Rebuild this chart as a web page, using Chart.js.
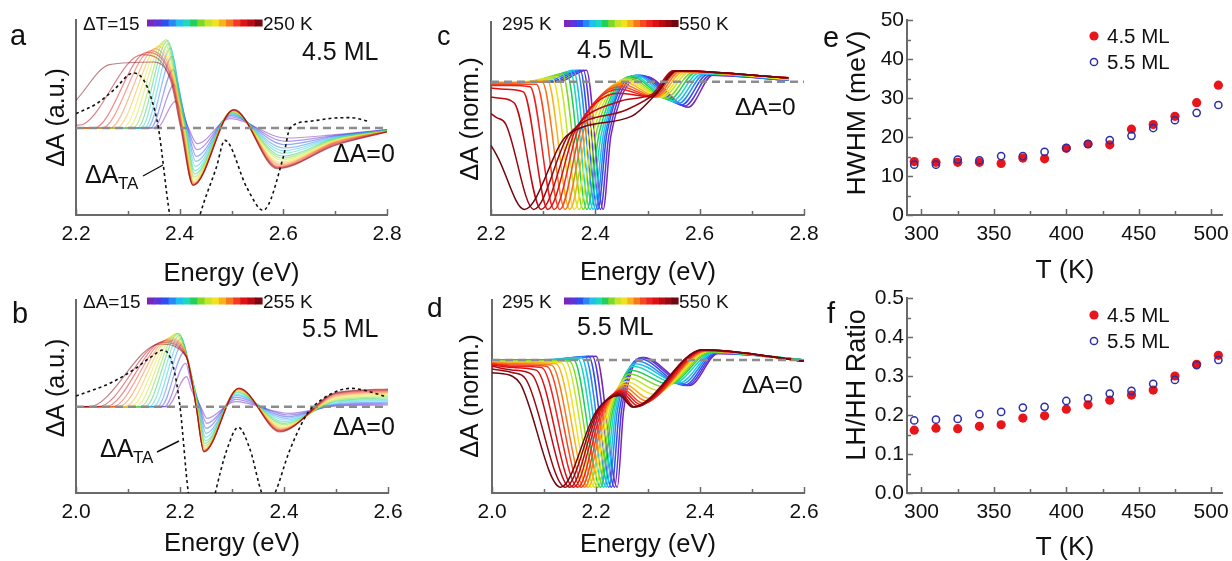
<!DOCTYPE html>
<html>
<head>
<meta charset="utf-8">
<script src="https://cdn.jsdelivr.net/npm/chart.js@4.4.0/dist/chart.umd.min.js"></script>
<style>
  html, body { margin: 0; padding: 0; background: #fff; }
  #wrap { position: relative; width: 1232px; height: 561px; overflow: hidden; }
  #wrap canvas { position: absolute; left: 0; top: 0; }
</style>
</head>
<body>
<div id="wrap">
  <canvas id="pa" width="1232" height="561"></canvas>
  <canvas id="pb" width="1232" height="561"></canvas>
  <canvas id="pc" width="1232" height="561"></canvas>
  <canvas id="pd" width="1232" height="561"></canvas>
  <canvas id="pe" width="1232" height="561"></canvas>
  <canvas id="pf" width="1232" height="561"></canvas>
</div>
<script>
// ---- a: 4.5 ML difference spectra, dT = 15 ... 250 K (cold -> hot) ----
const aStart  = [0, 0, 0, 0, 0, 0, 0, 0, 0, 0, 0, 0, 0, 0, 0.08, 0.83];
const aRiseE  = [2.356, 2.35, 2.344, 2.338, 2.332, 2.325, 2.318, 2.31, 2.3, 2.29, 2.278, 2.265, 2.25, 2.235, 2.215, 2.265];
const aRiseY  = [0, 0, 0, 0, 0, 0, 0, 0, 0, 0, 0, 0, 0, 0, 0.12, 1.9];
const aPeakE  = [2.392, 2.39, 2.388, 2.386, 2.383, 2.38, 2.377, 2.374, 2.37, 2.365, 2.36, 2.353, 2.345, 2.337, 2.328, 2.35];
const aPeakY  = [0.8, 1.3, 1.75, 2.15, 2.4, 2.55, 2.62, 2.65, 2.6, 2.52, 2.45, 2.38, 2.32, 2.27, 2.2, 1.98];
const aFallE  = [2.404, 2.402, 2.4, 2.398, 2.396, 2.394, 2.392, 2.39, 2.389, 2.388, 2.387, 2.386, 2.385, 2.384, 2.383, 2.382];
const aFallY  = [0.45, 0.75, 1.0, 1.25, 1.4, 1.5, 1.55, 1.6, 1.6, 1.58, 1.56, 1.55, 1.52, 1.5, 1.48, 1.45];
const aZeroE  = [2.417, 2.416, 2.415, 2.414, 2.413, 2.412, 2.411, 2.41, 2.409, 2.408, 2.407, 2.406, 2.405, 2.404, 2.403, 2.402];
const aDipE   = [2.434, 2.433, 2.432, 2.431, 2.43, 2.429, 2.429, 2.428, 2.428, 2.427, 2.427, 2.427, 2.426, 2.426, 2.426, 2.426];
const aDipY   = [-0.47, -0.65, -0.85, -1.0, -1.15, -1.28, -1.38, -1.47, -1.54, -1.6, -1.64, -1.67, -1.69, -1.71, -1.72, -1.72];
const aPeak2E = [2.497, 2.498, 2.498, 2.499, 2.499, 2.5, 2.5, 2.501, 2.501, 2.502, 2.502, 2.503, 2.503, 2.504, 2.504, 2.505];
const aPeak2Y = [0.28, 0.33, 0.37, 0.4, 0.43, 0.45, 0.47, 0.49, 0.5, 0.51, 0.52, 0.53, 0.54, 0.54, 0.55, 0.55];
const aDip2E  = [2.605, 2.604, 2.603, 2.601, 2.6, 2.599, 2.598, 2.597, 2.596, 2.594, 2.593, 2.592, 2.591, 2.59, 2.589, 2.588];
const aDip2Y  = [-0.3, -0.4, -0.5, -0.6, -0.68, -0.76, -0.84, -0.9, -0.96, -1.02, -1.07, -1.11, -1.15, -1.18, -1.2, -1.22];
const aAt270  = [-0.2, -0.22, -0.24, -0.26, -0.28, -0.3, -0.32, -0.34, -0.36, -0.38, -0.4, -0.42, -0.44, -0.47, -0.5, -0.52];
const aAt280  = [-0.05, -0.05, -0.06, -0.06, -0.07, -0.07, -0.08, -0.08, -0.09, -0.09, -0.1, -0.1, -0.11, -0.11, -0.12, -0.12];
// transient absorption spectrum (black dashed)
const aTaE = [2.2, 2.24, 2.272, 2.311, 2.33, 2.345, 2.359, 2.381, 2.41, 2.439, 2.471, 2.487, 2.53, 2.561, 2.6, 2.613, 2.65, 2.7, 2.73, 2.765];
const aTaY = [0.43, 0.73, 1.13, 1.65, 1.45, 0.9, 0, -2.62, -4.5, -2.62, -1.17, -0.37, -1.8, -2.47, -0.87, 0, 0.2, 0.3, 0.31, 0.2];

// ---- b: 5.5 ML difference spectra, dT = 15 ... 255 K ----
const bRiseE  = [2.175, 2.17, 2.163, 2.156, 2.149, 2.141, 2.133, 2.124, 2.115, 2.105, 2.094, 2.082, 2.07, 2.057, 2.043, 2.025];
const bPeakE  = [2.213, 2.211, 2.209, 2.206, 2.203, 2.2, 2.197, 2.194, 2.19, 2.186, 2.182, 2.178, 2.174, 2.17, 2.166, 2.162];
const bPeakY  = [0.9, 1.3, 1.65, 1.9, 2.05, 2.15, 2.2, 2.2, 2.17, 2.12, 2.07, 2.03, 2.0, 1.97, 1.93, 1.88];
const bFallE  = [2.222, 2.221, 2.22, 2.219, 2.218, 2.217, 2.216, 2.215, 2.215, 2.214, 2.214, 2.213, 2.213, 2.212, 2.212, 2.212];
const bFallY  = [0.5, 0.75, 0.95, 1.1, 1.2, 1.28, 1.34, 1.38, 1.42, 1.45, 1.47, 1.49, 1.5, 1.5, 1.5, 1.5];
const bZeroE  = [2.24, 2.239, 2.238, 2.237, 2.236, 2.235, 2.234, 2.234, 2.233, 2.233, 2.232, 2.232, 2.231, 2.231, 2.231, 2.231];
const bDipE   = [2.252, 2.251, 2.25, 2.25, 2.249, 2.249, 2.248, 2.248, 2.247, 2.247, 2.247, 2.246, 2.246, 2.246, 2.246, 2.246];
const bDipY   = [-0.35, -0.5, -0.65, -0.8, -0.92, -1.02, -1.1, -1.17, -1.22, -1.26, -1.29, -1.31, -1.33, -1.34, -1.35, -1.36];
const bPeak2E = [2.306, 2.307, 2.307, 2.308, 2.308, 2.309, 2.309, 2.31, 2.31, 2.311, 2.311, 2.312, 2.312, 2.313, 2.313, 2.314];
const bPeak2Y = [0.15, 0.22, 0.28, 0.33, 0.37, 0.41, 0.44, 0.47, 0.49, 0.51, 0.52, 0.53, 0.54, 0.55, 0.55, 0.56];
const bDip2E  = [2.41, 2.408, 2.406, 2.404, 2.403, 2.401, 2.4, 2.399, 2.398, 2.397, 2.396, 2.395, 2.394, 2.393, 2.393, 2.392];
const bDip2Y  = [-0.2, -0.25, -0.3, -0.35, -0.4, -0.45, -0.5, -0.54, -0.58, -0.62, -0.65, -0.68, -0.7, -0.72, -0.74, -0.76];
const bAt250  = [0.02, 0.04, 0.06, 0.08, 0.11, 0.14, 0.17, 0.2, 0.23, 0.26, 0.29, 0.32, 0.35, 0.38, 0.4, 0.42];
const bAt260  = [0.05, 0.08, 0.11, 0.14, 0.18, 0.22, 0.26, 0.3, 0.34, 0.37, 0.4, 0.43, 0.46, 0.49, 0.51, 0.53];
const bTaE = [2.0, 2.065, 2.11, 2.145, 2.168, 2.187, 2.2, 2.216, 2.242, 2.268, 2.29, 2.312, 2.335, 2.357, 2.37, 2.383, 2.41, 2.445, 2.456, 2.49, 2.528, 2.598];
const bTaY = [0.32, 0.7, 1.1, 1.5, 1.7, 1.2, 0, -2.58, -4.5, -2.58, -1.3, -0.62, -1.3, -2.58, -2.9, -2.58, -1.35, -0.2, 0, 0.38, 0.55, 0.3];

// ---- c: 4.5 ML normalized spectra, 295 ... 550 K ----
const cStart = [0, 0, 0, 0, 0, 0, 0, 0, 0, 0, -0.01, -0.01, -0.02, -0.03, -0.05, -0.12, -0.25, -0.5];
const cFlatE = [2.33, 2.322, 2.314, 2.306, 2.298, 2.29, 2.282, 2.274, 2.266, 2.258, 2.25, 2.245, 2.24, 2.235, 2.225, 2.218, 2.21, 2.206];
const cFlatY = [0, 0, 0, 0, 0, 0, 0, 0, 0, 0, -0.01, -0.01, -0.02, -0.03, -0.06, -0.13, -0.28, -0.54];
const cEdgeE = [2.383, 2.377, 2.371, 2.365, 2.358, 2.352, 2.345, 2.337, 2.328, 2.318, 2.308, 2.298, 2.287, 2.275, 2.262, 2.245, 2.228, 2.214];
const cEdgeY = [0.09, 0.09, 0.09, 0.09, 0.09, 0.08, 0.07, 0.06, 0.04, 0.02, 0.01, 0, -0.02, -0.04, -0.08, -0.17, -0.33, -0.6];
const cMinE  = [2.415, 2.41, 2.405, 2.401, 2.396, 2.39, 2.384, 2.377, 2.369, 2.36, 2.351, 2.342, 2.332, 2.321, 2.309, 2.296, 2.282, 2.264];
const cKneeE = [2.43, 2.426, 2.422, 2.419, 2.416, 2.412, 2.408, 2.403, 2.398, 2.392, 2.386, 2.38, 2.374, 2.368, 2.362, 2.356, 2.35, 2.346];
const cKneeY = [-0.42, -0.42, -0.41, -0.41, -0.4, -0.4, -0.39, -0.38, -0.37, -0.36, -0.35, -0.35, -0.35, -0.36, -0.38, -0.4, -0.41, -0.42];
const cP2E   = [2.497, 2.492, 2.487, 2.482, 2.477, 2.472, 2.468, 2.464, 2.46, 2.457, 2.454, 2.451, 2.449, 2.447, 2.445, 2.45, 2.46, 2.47];
const cP2Y   = [0.04, 0.045, 0.05, 0.05, 0.05, 0.045, 0.04, 0.03, 0.02, 0.01, 0, -0.02, -0.04, -0.06, -0.09, -0.15, -0.22, -0.27];
const cShE   = [2.578, 2.572, 2.566, 2.56, 2.554, 2.548, 2.542, 2.536, 2.53, 2.525, 2.52, 2.516, 2.512, 2.509, 2.507, 2.508, 2.515, 2.52];
const cShY   = [-0.2, -0.19, -0.18, -0.17, -0.16, -0.15, -0.14, -0.13, -0.12, -0.12, -0.12, -0.12, -0.12, -0.12, -0.12, -0.1, -0.09, -0.08];
const cP3E   = [2.625, 2.62, 2.615, 2.61, 2.604, 2.598, 2.592, 2.586, 2.58, 2.574, 2.568, 2.562, 2.557, 2.553, 2.55, 2.55, 2.553, 2.556];
const cP3Y   = [0.05, 0.05, 0.055, 0.06, 0.06, 0.065, 0.07, 0.07, 0.075, 0.075, 0.08, 0.08, 0.08, 0.085, 0.085, 0.085, 0.085, 0.085];
const cEndY  = [0.01, 0.01, 0.01, 0.01, 0.02, 0.02, 0.02, 0.02, 0.02, 0.02, 0.03, 0.03, 0.03, 0.03, 0.03, 0.03, 0.03, 0.03];

// ---- d: 5.5 ML normalized spectra, 295 ... 550 K ----
const dStart = [0, 0, 0, 0, 0, -0.01, -0.01, -0.01, -0.01, -0.02, -0.02, -0.02, -0.03, -0.03, -0.04, -0.05, -0.07, -0.1];
const dFlatE = [2.13, 2.12, 2.11, 2.1, 2.09, 2.08, 2.07, 2.06, 2.05, 2.05, 2.04, 2.04, 2.04, 2.04, 2.04, 2.04, 2.04, 2.04];
const dFlatY = [0, 0, 0, 0, 0, -0.01, -0.01, -0.01, -0.01, -0.02, -0.02, -0.03, -0.04, -0.05, -0.06, -0.08, -0.1, -0.13];
const dEdgeE = [2.2, 2.193, 2.186, 2.179, 2.172, 2.165, 2.157, 2.149, 2.141, 2.132, 2.123, 2.114, 2.105, 2.095, 2.085, 2.075, 2.065, 2.055];
const dEdgeY = [0.03, 0.03, 0.03, 0.025, 0.02, 0.01, 0, -0.01, -0.01, -0.02, -0.03, -0.04, -0.05, -0.06, -0.08, -0.11, -0.15, -0.19];
const dMinE  = [2.241, 2.236, 2.23, 2.225, 2.22, 2.215, 2.209, 2.204, 2.198, 2.191, 2.185, 2.178, 2.172, 2.165, 2.157, 2.15, 2.141, 2.132];
const dKneeE = [2.253, 2.249, 2.245, 2.241, 2.238, 2.235, 2.232, 2.229, 2.226, 2.223, 2.22, 2.217, 2.214, 2.211, 2.208, 2.205, 2.203, 2.201];
const dKneeY = [-0.4, -0.4, -0.4, -0.4, -0.4, -0.4, -0.4, -0.4, -0.4, -0.4, -0.4, -0.4, -0.4, -0.4, -0.4, -0.4, -0.4, -0.4];
const dP2E   = [2.292, 2.288, 2.284, 2.28, 2.276, 2.272, 2.268, 2.265, 2.262, 2.259, 2.256, 2.254, 2.252, 2.25, 2.248, 2.247, 2.246, 2.245];
const dP2Y   = [0.02, 0.02, 0.01, -0.01, -0.03, -0.05, -0.08, -0.11, -0.14, -0.17, -0.19, -0.21, -0.23, -0.24, -0.25, -0.26, -0.27, -0.28];
const dValE  = [2.38, 2.375, 2.37, 2.365, 2.36, 2.35, 2.34, 2.33, 2.32, 2.31, 2.3, 2.295, 2.29, 2.285, 2.28, 2.275, 2.272, 2.27];
const dValY  = [-0.2, -0.2, -0.2, -0.19, -0.18, -0.18, -0.19, -0.21, -0.24, -0.27, -0.3, -0.32, -0.34, -0.35, -0.36, -0.37, -0.37, -0.37];
const dP3E   = [2.435, 2.433, 2.431, 2.429, 2.427, 2.425, 2.423, 2.421, 2.419, 2.417, 2.415, 2.413, 2.411, 2.409, 2.408, 2.407, 2.406, 2.405];
const dP3Y   = [0.05, 0.05, 0.055, 0.055, 0.06, 0.06, 0.065, 0.065, 0.07, 0.07, 0.07, 0.075, 0.075, 0.075, 0.08, 0.08, 0.08, 0.08];
const dEndY  = [0, 0, 0, 0, 0, 0, 0, -0.01, -0.01, -0.01, -0.01, -0.01, -0.01, -0.01, -0.01, -0.01, -0.01, -0.01];

// ---- e, f: fitted widths and LH/HH ratio vs temperature ----
const temps    = [295, 310, 325, 340, 355, 370, 385, 400, 415, 430, 445, 460, 475, 490, 505];
const hwhm45   = [13.7, 13.5, 13.5, 13.5, 13.2, 14.6, 14.4, 17.1, 18.2, 18.0, 22.0, 23.2, 25.3, 28.8, 33.3];
const hwhm55   = [12.9, 12.9, 14.2, 14.0, 15.1, 15.1, 16.2, 17.2, 18.2, 19.2, 20.3, 22.3, 24.3, 26.2, 28.2];
const ratio45  = [0.161, 0.166, 0.165, 0.171, 0.175, 0.192, 0.198, 0.215, 0.226, 0.238, 0.251, 0.264, 0.300, 0.330, 0.353];
const ratio55  = [0.186, 0.188, 0.190, 0.202, 0.208, 0.219, 0.221, 0.236, 0.243, 0.255, 0.262, 0.280, 0.290, 0.328, 0.341];

// tick labels
const eTicks45 = [2.2, 2.4, 2.6, 2.8];
const eMinor45 = [2.3, 2.5, 2.7];
const eTicks55 = [2.0, 2.2, 2.4, 2.6];
const eMinor55 = [2.1, 2.3, 2.5];
const tTicks   = [300, 350, 400, 450, 500];
const tMinor   = [325, 375, 425, 475];
const wTicks   = [0, 10, 20, 30, 40, 50];
const wMinor   = [5, 15, 25, 35, 45];
const rTicks   = [0, 0.1, 0.2, 0.3, 0.4, 0.5];
const rMinor   = [0.05, 0.15, 0.25, 0.35, 0.45];

// styling
const W = 1232, H = 561;
const AXIS_W = 44, AXIS_H = 40;   // room reserved for tick labels
const FONT = "'Liberation Sans', Arial, Helvetica, sans-serif";
const AXIS = '#6a6a6a';
const RED = '#e8161b', NAVY = '#2b2fa8';
const rainbow16 = ['#7a26b8', '#5b34dc', '#2f4ef0', '#2a86f2', '#1fbfee', '#1dd8c0', '#22cf5a', '#7ed926',
                   '#c4e52a', '#f2e21e', '#f9b21c', '#f8781e', '#f23a26', '#e01014', '#b80a12', '#7c0610'];
const rainbow18 = ['#7a26b8', '#5b34dc', '#2f4ef0', '#2a86f2', '#1fbfee', '#1dd8c0', '#22cf5a', '#7ed926',
                   '#c4e52a', '#f2e21e', '#f9b21c', '#f8781e', '#f4481e', '#ee2222', '#dc1012', '#bc0a12', '#960812', '#700610'];

Chart.defaults.font.family = FONT;
Chart.defaults.color = '#111';

const pts = list => list.map(([x, y]) => ({ x, y }));
const fade = (hex, a) => {
  const n = parseInt(hex.slice(1), 16);
  return `rgba(${n >> 16},${(n >> 8) & 255},${n & 255},${a})`;
};

// padding so that the plot area lands exactly on box
function frame(box) {
  return { padding: { left: box.left - AXIS_W, top: box.top, right: W - box.right, bottom: H - box.bottom - AXIS_H } };
}

function xAxis(range, major, fmt) {
  return {
    type: 'linear', min: range[0], max: range[1],
    afterBuildTicks: s => { s.ticks = major.map(v => ({ value: v })); },
    afterFit: s => { s.height = AXIS_H; s.paddingLeft = 0; s.paddingRight = 0; },
    grid: { display: false, drawTicks: false },
    border: { display: true, color: AXIS, width: 2 },
    ticks: { font: { size: 21 }, color: '#111', padding: 7, maxRotation: 0, autoSkip: false, callback: fmt }
  };
}

function yAxis(range, major, fmt) {
  return {
    type: 'linear', min: range[0], max: range[1],
    afterBuildTicks: s => { if (major) s.ticks = major.map(v => ({ value: v })); },
    afterFit: s => { s.width = AXIS_W; s.paddingTop = 0; s.paddingBottom = 0; },
    grid: { display: false, drawTicks: false },
    border: { display: true, color: AXIS, width: 2 },
    ticks: major ? { font: { size: 21 }, color: '#111', padding: 3, callback: fmt } : { display: false }
  };
}

// inward tick marks on both axes
function ticksIn(chart, xMaj, xMin, yMaj, yMin) {
  const { ctx, chartArea: ar, scales: { x, y } } = chart;
  ctx.save();
  ctx.strokeStyle = AXIS;
  ctx.lineWidth = 1.5;
  ctx.beginPath();
  const tx = (vals, len) => vals.forEach(v => {
    const p = Math.round(x.getPixelForValue(v)) + 0.5;
    ctx.moveTo(p, ar.bottom); ctx.lineTo(p, ar.bottom - len);
  });
  const ty = (vals, len) => vals.forEach(v => {
    const p = Math.round(y.getPixelForValue(v)) + 0.5;
    ctx.moveTo(ar.left, p); ctx.lineTo(ar.left + len, p);
  });
  tx(xMaj, 6); tx(xMin, 4); ty(yMaj, 6); ty(yMin, 4);
  ctx.stroke();
  ctx.restore();
}

function txt(ctx, s, x, y, size, opt = {}) {
  ctx.save();
  ctx.font = `${size}px ${FONT}`;
  ctx.fillStyle = opt.color || '#111';
  ctx.textAlign = opt.align || 'left';
  ctx.textBaseline = opt.base || 'alphabetic';
  if (opt.rot) {
    ctx.translate(x, y);
    ctx.rotate(opt.rot);
    ctx.fillText(s, 0, 0);
  } else {
    ctx.fillText(s, x, y);
  }
  ctx.restore();
}

function yTitle(ctx, s, x, y, size) {
  txt(ctx, s, x, y, size, { align: 'center', base: 'middle', rot: -Math.PI / 2 });
}

function colorBar(ctx, x, y, w, h, colors) {
  const step = w / colors.length;
  colors.forEach((c, i) => {
    ctx.fillStyle = c;
    ctx.fillRect(x + i * step, y, step + 0.6, h);
  });
}

function leader(ctx, x1, y1, x2, y2) {
  ctx.save();
  ctx.strokeStyle = '#111';
  ctx.lineWidth = 1.4;
  ctx.beginPath();
  ctx.moveTo(x1, y1);
  ctx.lineTo(x2, y2);
  ctx.stroke();
  ctx.restore();
}

function spectrum(id, box, xRange, yRange, xMajor, xMinor, traces, colors, lineWidth, ta, deco) {
  const datasets = traces.map((d, i) => ({
    data: d, borderColor: colors[i], borderWidth: lineWidth, order: 100 - i
  }));
  datasets.push({
    data: pts([[xRange[0], 0], [xRange[1], 0]]),
    borderColor: '#8c8c8c', borderWidth: 2.5, borderDash: [8, 5], order: 1
  });
  if (ta) {
    datasets.push({ data: ta, borderColor: '#111', borderWidth: 1.6, borderDash: [3, 3], order: 0 });
  }
  return new Chart(document.getElementById(id), {
    type: 'line',
    data: { datasets },
    options: {
      responsive: false,
      animation: false,
      events: [],
      layout: frame(box),
      elements: { point: { radius: 0 }, line: { cubicInterpolationMode: 'monotone', fill: false } },
      plugins: { legend: { display: false }, tooltip: { enabled: false } },
      scales: {
        x: xAxis(xRange, xMajor, v => v.toFixed(1)),
        y: yAxis(yRange, null)
      }
    },
    plugins: [{ id: 'deco', afterDraw(chart) { ticksIn(chart, xMajor, xMinor, [], []); deco(chart.ctx); } }]
  });
}

function tempChart(id, box, yRange, yMajor, yMinor, fmt, red, blue, deco) {
  return new Chart(document.getElementById(id), {
    type: 'scatter',
    data: {
      datasets: [
        { data: temps.map((t, i) => ({ x: t, y: blue[i] })), pointRadius: 3.6, borderWidth: 1.5,
          borderColor: NAVY, backgroundColor: 'rgba(0,0,0,0)', order: 0, clip: false },
        { data: temps.map((t, i) => ({ x: t, y: red[i] })), pointRadius: 4.6, borderWidth: 0,
          backgroundColor: RED, order: 1, clip: false }
      ]
    },
    options: {
      responsive: false,
      animation: false,
      events: [],
      layout: frame(box),
      plugins: { legend: { display: false }, tooltip: { enabled: false } },
      scales: {
        x: xAxis([290, 507.5], tTicks, v => String(v)),
        y: yAxis(yRange, yMajor, fmt)
      }
    },
    plugins: [{ id: 'deco', afterDraw(chart) { ticksIn(chart, tTicks, tMinor, yMajor, yMinor); deco(chart.ctx); } }]
  });
}

function legend(ctx, y1, y2) {
  ctx.save();
  ctx.fillStyle = RED;
  ctx.beginPath(); ctx.arc(1094, y1, 4.6, 0, Math.PI * 2); ctx.fill();
  ctx.strokeStyle = NAVY; ctx.lineWidth = 1.5;
  ctx.beginPath(); ctx.arc(1094, y2, 3.6, 0, Math.PI * 2); ctx.stroke();
  ctx.restore();
  txt(ctx, '4.5 ML', 1107, y1 + 7, 20.5);
  txt(ctx, '5.5 ML', 1107, y2 + 7, 20.5);
}

// ---- build traces ----
const tracesA = aPeakE.map((_, i) => pts([
  [2.2, aStart[i]], [aRiseE[i], aRiseY[i]], [aPeakE[i], aPeakY[i]], [aFallE[i], aFallY[i]],
  [aZeroE[i], 0], [aDipE[i], aDipY[i]], [aPeak2E[i], aPeak2Y[i]], [aDip2E[i], aDip2Y[i]],
  [2.7, aAt270[i]], [2.8, aAt280[i]]
]));
const tracesB = bPeakE.map((_, i) => pts([
  [2.0, 0], [bRiseE[i], 0], [bPeakE[i], bPeakY[i]], [bFallE[i], bFallY[i]],
  [bZeroE[i], 0], [bDipE[i], bDipY[i]], [bPeak2E[i], bPeak2Y[i]], [bDip2E[i], bDip2Y[i]],
  [2.5, bAt250[i]], [2.6, bAt260[i]]
]));
const tracesC = cMinE.map((_, i) => pts([
  [2.2, cStart[i]], [cFlatE[i], cFlatY[i]], [cEdgeE[i], cEdgeY[i]], [cMinE[i], -1],
  [cKneeE[i], cKneeY[i]], [cP2E[i], cP2Y[i]], [cShE[i], cShY[i]], [cP3E[i], cP3Y[i]], [2.77, cEndY[i]]
]));
const tracesD = dMinE.map((_, i) => pts([
  [2.0, dStart[i]], [dFlatE[i], dFlatY[i]], [dEdgeE[i], dEdgeY[i]], [dMinE[i], -1],
  [dKneeE[i], dKneeY[i]], [dP2E[i], dP2Y[i]], [dValE[i], dValY[i]], [dP3E[i], dP3Y[i]], [2.6, dEndY[i]]
]));
const taA = pts(aTaE.map((e, i) => [e, aTaY[i]]));
const taB = pts(bTaE.map((e, i) => [e, bTaY[i]]));

const pale16 = rainbow16.map(c => fade(c, 0.5));

spectrum('pa', { left: 76, right: 387, top: 20, bottom: 215 }, [2.2, 2.8], [-2.61, 3.24],
  eTicks45, eMinor45, tracesA, pale16, 1.2, taA, ctx => {
    txt(ctx, 'a', 10, 45, 29);
    txt(ctx, '\u0394T=15', 83, 30, 19);
    colorBar(ctx, 147, 19.5, 115, 7, rainbow16);
    txt(ctx, '250 K', 263, 30, 19);
    txt(ctx, '4.5 ML', 302, 60, 25);
    txt(ctx, '\u0394A=0', 333, 162, 25);
    txt(ctx, '\u0394A', 85, 183, 25);
    txt(ctx, 'TA', 118, 189, 17);
    leader(ctx, 143, 176, 163, 165);
    yTitle(ctx, '\u0394A (a.u.)', 57, 117.5, 25);
    txt(ctx, 'Energy (eV)', 231.5, 281, 25.5, { align: 'center' });
  });

spectrum('pb', { left: 76, right: 388, top: 300, bottom: 493 }, [2.0, 2.6], [-2.59, 3.2],
  eTicks55, eMinor55, tracesB, pale16, 1.2, taB, ctx => {
    txt(ctx, 'b', 12, 323, 29);
    txt(ctx, '\u0394A=15', 83, 308, 19);
    colorBar(ctx, 147, 297.5, 115, 7, rainbow16);
    txt(ctx, '255 K', 263, 308, 19);
    txt(ctx, '5.5 ML', 302, 337, 25);
    txt(ctx, '\u0394A=0', 333, 435, 25);
    txt(ctx, '\u0394A', 100, 457, 25);
    txt(ctx, 'TA', 133, 463, 17);
    leader(ctx, 157, 452, 179, 441);
    yTitle(ctx, '\u0394A (a.u.)', 57, 388, 25);
    txt(ctx, 'Energy (eV)', 232, 551, 25.5, { align: 'center' });
  });

spectrum('pc', { left: 491, right: 804, top: 22, bottom: 215 }, [2.2, 2.8], [-1.044, 0.467],
  eTicks45, eMinor45, tracesC, rainbow18, 1.5, null, ctx => {
    txt(ctx, 'c', 437, 45, 27);
    txt(ctx, '295 K', 502, 30, 19);
    colorBar(ctx, 564, 20, 114, 7, rainbow18);
    txt(ctx, '550 K', 679, 30, 19);
    txt(ctx, '4.5 ML', 577, 58, 25);
    txt(ctx, '\u0394A=0', 735, 115, 24.5);
    yTitle(ctx, '\u0394A (norm.)', 471, 119, 25.5);
    txt(ctx, 'Energy (eV)', 648, 280, 25.5, { align: 'center' });
  });

spectrum('pd', { left: 492, right: 804, top: 300, bottom: 493 }, [2.0, 2.6], [-1.045, 0.471],
  eTicks55, eMinor55, tracesD, rainbow18, 1.5, null, ctx => {
    txt(ctx, 'd', 427, 317, 28);
    txt(ctx, '295 K', 502, 308, 19);
    colorBar(ctx, 564, 297.5, 114, 7, rainbow18);
    txt(ctx, '550 K', 679, 308, 19);
    txt(ctx, '5.5 ML', 577, 335, 25);
    txt(ctx, '\u0394A=0', 742, 393, 24.5);
    yTitle(ctx, '\u0394A (norm.)', 471, 396, 25.5);
    txt(ctx, 'Energy (eV)', 648, 552, 25.5, { align: 'center' });
  });

tempChart('pe', { left: 907, right: 1222, top: 20, bottom: 215 }, [0, 50], wTicks, wMinor,
  v => String(v), hwhm45, hwhm55, ctx => {
    txt(ctx, 'e', 823, 47, 29);
    legend(ctx, 36, 62);
    yTitle(ctx, 'HWHM (meV)', 858, 113, 26.5);
    txt(ctx, 'T (K)', 1065, 278, 26.5, { align: 'center' });
  });

tempChart('pf', { left: 907, right: 1222, top: 298, bottom: 493 }, [0, 0.5], rTicks, rMinor,
  v => v.toFixed(1), ratio45, ratio55, ctx => {
    txt(ctx, 'f', 827, 323, 29);
    legend(ctx, 315, 341);
    yTitle(ctx, 'LH/HH Ratio', 858, 385, 27);
    txt(ctx, 'T (K)', 1065, 555, 26.5, { align: 'center' });
  });
</script>
</body>
</html>
